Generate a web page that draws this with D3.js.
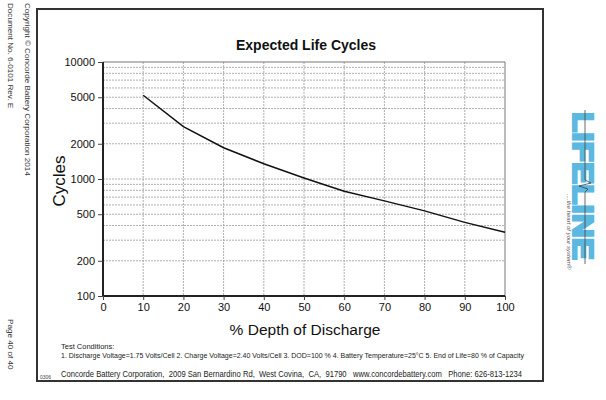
<!DOCTYPE html>
<html><head><meta charset="utf-8">
<script src="https://cdn.jsdelivr.net/npm/d3@7/dist/d3.min.js"></script>
<style>body{margin:0;background:#fff}svg{display:block;font-family:"Liberation Sans",Arial,sans-serif}</style>
</head><body>
<svg id="c" width="606" height="400"></svg>
<script>
const depth = [10, 20, 30, 40, 50, 60, 70, 80, 90, 100];
const cycles = [5200, 2800, 1850, 1350, 1020, 785, 650, 534, 426, 351];
const xTicks = [0, 10, 20, 30, 40, 50, 60, 70, 80, 90, 100];
const yTicks = [100, 200, 500, 1000, 2000, 5000, 10000];
const yGrid = [200,300,400,500,600,700,800,900,1000,2000,3000,4000,5000,6000,7000,8000,9000];
const testLine = "1. Discharge Voltage=1.75 Volts/Cell  2. Charge Voltage=2.40 Volts/Cell  3. DOD=100 %  4. Battery Temperature=25°C  5. End of Life=80 % of Capacity";
const footer = "Concorde Battery Corporation,  2009 San Bernardino Rd,  West Covina,  CA,  91790   www.concordebattery.com   Phone: 626-813-1234";

const svg = d3.select("#c");
const L = 103, R = 505, T = 62, B = 296;
const x = d3.scaleLinear().domain([0, 100]).range([L, R]);
const y = d3.scaleLog().domain([100, 10000]).range([B, T]);

// outer frame
svg.append("rect").attr("x", 37).attr("y", 9).attr("width", 506).attr("height", 372)
  .attr("fill", "none").attr("stroke", "#333").attr("stroke-width", 2);

// grid
svg.append("g").selectAll("line").data(yGrid).join("line")
  .attr("x1", L).attr("x2", R).attr("y1", d => y(d)).attr("y2", d => y(d))
  .attr("stroke", "#9a9a9a").attr("stroke-width", 0.8).attr("stroke-dasharray", "2,1");
svg.append("g").selectAll("line").data(xTicks.slice(1, -1)).join("line")
  .attr("y1", T).attr("y2", B).attr("x1", d => x(d)).attr("x2", d => x(d))
  .attr("stroke", "#9a9a9a").attr("stroke-width", 0.8).attr("stroke-dasharray", "2,1");

// top & right border
svg.append("path").attr("d", `M${L},${T}H${R}V${B}`).attr("fill", "none")
  .attr("stroke", "#777").attr("stroke-width", 1);

// axes
const yAxis = d3.axisLeft(y).tickValues(yTicks).tickFormat(d3.format("d")).tickSize(5).tickPadding(3);
const gy = svg.append("g").attr("transform", `translate(${L},0)`).call(yAxis);
gy.select(".domain").attr("stroke", "#222").attr("stroke-width", 2).attr("d", `M0,${T}V${B}`);
gy.selectAll(".tick line").attr("stroke", "#444");
gy.selectAll("text").attr("font-size", 11).attr("fill", "#111").attr("font-family", "Liberation Sans, Arial, sans-serif");

const xAxis = d3.axisBottom(x).tickValues(xTicks).tickSize(4).tickPadding(3);
const gx = svg.append("g").attr("transform", `translate(0,${B})`).call(xAxis);
gx.select(".domain").attr("stroke", "#222").attr("stroke-width", 2).attr("d", `M${L},0H${R}`);
gx.selectAll(".tick line").attr("stroke", "#444");
gx.selectAll("text").attr("font-size", 11).attr("fill", "#111").attr("font-family", "Liberation Sans, Arial, sans-serif");

// line
const line = d3.line().x((d, i) => x(depth[i])).y(d => y(d));
svg.append("path").datum(cycles).attr("d", line).attr("fill", "none")
  .attr("stroke", "#111").attr("stroke-width", 1.5);

// titles
svg.append("text").attr("x", 306).attr("y", 50).attr("text-anchor", "middle")
  .attr("font-size", 14).attr("font-weight", "bold").attr("fill", "#111").text("Expected Life Cycles");
svg.append("text").attr("transform", "translate(65,181) rotate(-90)").attr("text-anchor", "middle")
  .attr("font-size", 17).attr("fill", "#111").text("Cycles");
svg.append("text").attr("x", 305).attr("y", 335).attr("text-anchor", "middle")
  .attr("font-size", 15.5).attr("fill", "#111").text("% Depth of Discharge");

// test conditions
svg.append("text").attr("x", 61).attr("y", 349).attr("font-size", 7.5).attr("fill", "#222").text("Test Conditions:");
svg.append("text").attr("x", 61).attr("y", 358).attr("font-size", 7.5).attr("fill", "#222")
  .attr("textLength", 463).attr("lengthAdjust", "spacingAndGlyphs").text(testLine);
svg.append("text").attr("x", 40).attr("y", 379).attr("font-size", 5).attr("fill", "#444").text("0306");
svg.append("text").attr("x", 61).attr("y", 377).attr("font-size", 9).attr("fill", "#222")
  .attr("xml:space", "preserve").attr("textLength", 461).attr("lengthAdjust", "spacingAndGlyphs")
  .text(footer);

// left margin rotated texts
svg.append("text").attr("transform", "translate(25,3) rotate(90)").attr("font-size", 8.1).attr("fill", "#333")
  .text("Copyright © Concorde Battery Corporation 2014");
svg.append("text").attr("transform", "translate(8,3) rotate(90)").attr("font-size", 8.1).attr("fill", "#333")
  .text("Document No. 6-0101 Rev. E");
svg.append("text").attr("transform", "translate(8,319) rotate(90)").attr("font-size", 8.1).attr("fill", "#333")
  .text("Page 40 of 40");

// Lifeline logo
const logo = svg.append("g").attr("transform", "translate(573,112) rotate(90)");
logo.append("text").attr("x", 0).attr("y", 0).attr("font-size", 30).attr("font-weight", "900")
  .attr("fill", "#5bb8e0").attr("stroke", "#5bb8e0").attr("stroke-width", 2.2)
  .attr("textLength", 148).attr("lengthAdjust", "spacingAndGlyphs").text("LIFELINE");
logo.append("path").attr("d", "M-2,-12H68l3,-6l3,12l3,-9l3,3H152").attr("fill", "none")
  .attr("stroke", "#444").attr("stroke-width", 0.8);
logo.append("text").attr("x", 82).attr("y", 6).attr("font-size", 6).attr("font-style", "italic")
  .attr("fill", "#555").text("....the heart of your system®");
</script>
</body></html>
